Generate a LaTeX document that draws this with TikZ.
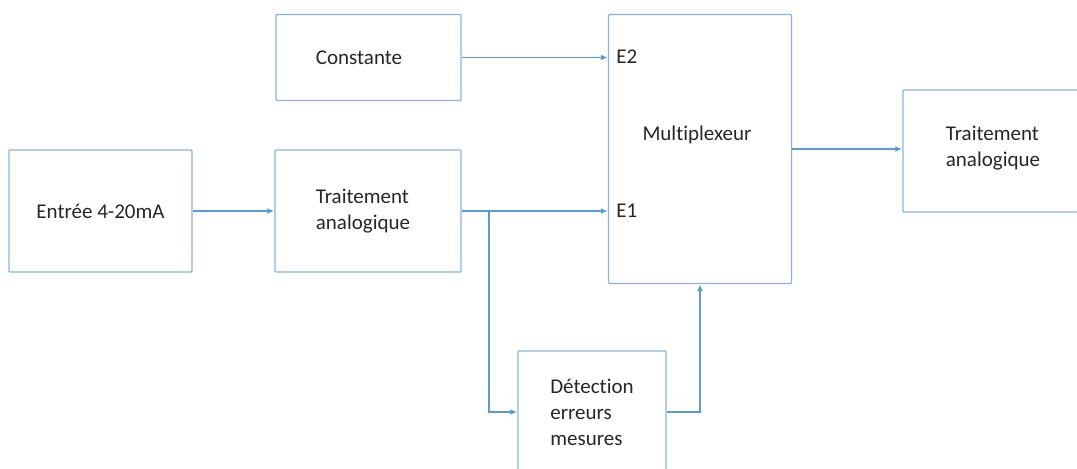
\documentclass[tikz,border=0pt]{standalone}
\usepackage{fontspec}
\setmainfont[Ligatures={NoCommon}]{Carlito}
\usetikzlibrary{arrows.meta}
\definecolor{lineblue}{RGB}{91,155,213}
\definecolor{boxblue}{RGB}{140,178,222}
\definecolor{txt}{RGB}{38,38,38}
\begin{document}
\begin{tikzpicture}[x=0.5pt,y=-0.5pt,
  box/.style={draw=boxblue,line width=0.7pt,rounded corners=0.5pt,inner sep=0pt,
    text=txt,font=\fontsize{10.5}{13}\selectfont,align=left},
  lbl/.style={text=txt,font=\fontsize{10.5}{13}\selectfont,inner sep=0pt},
  arr/.style={draw=lineblue,line width=0.7pt,-{Latex[length=3.5pt,width=3pt]}},
  ln/.style={draw=lineblue,line width=0.7pt}]
\useasboundingbox (0,0) rectangle (1077,468);
\clip (0,0) rectangle (1077,468);
\node[box,minimum width=91.5pt,minimum height=61pt] (in) at (100.5,211) {Entrée 4-20mA};
\node[box,minimum width=93pt,minimum height=61pt] (tr1) at (368,211) {};
\node[lbl,align=left] (tr1t) at (363,211) {Traitement\\analogique};
\node[box,minimum width=92.5pt,minimum height=43pt] (cst) at (368.5,57.5) {};
\node[lbl] (cstt) at (359,58) {Constante};
\node[box,minimum width=91.5pt,minimum height=134.5pt] (mux) at (700,149) {};
\node[lbl] (mtxt) at (697,135) {Multiplexeur};
\node[lbl,anchor=west] (e2) at (616,57) {E2};
\node[lbl,anchor=west] (e1) at (616,211) {E1};
\node[box,minimum width=93pt,minimum height=61pt] (out) at (996,151) {};
\node[lbl,align=left] (outt) at (993,148) {Traitement\\analogique};
\node[box,minimum width=74pt,minimum height=61pt] (det) at (592,412) {Détection\\erreurs\\mesures};
\coordinate (br) at (489,211);
\draw[arr] (in.east) -- (tr1.west);
\draw[arr] (cst.east) -- (cst.east -| mux.west);
\draw[arr] (tr1.east) -- (tr1.east -| mux.west);
\draw[arr] (br) |- (det.west);
\draw[arr] (det.east) -| (mux.south);
\draw[arr] (mux.east) -- (mux.east -| out.west);
\end{tikzpicture}
\end{document}
